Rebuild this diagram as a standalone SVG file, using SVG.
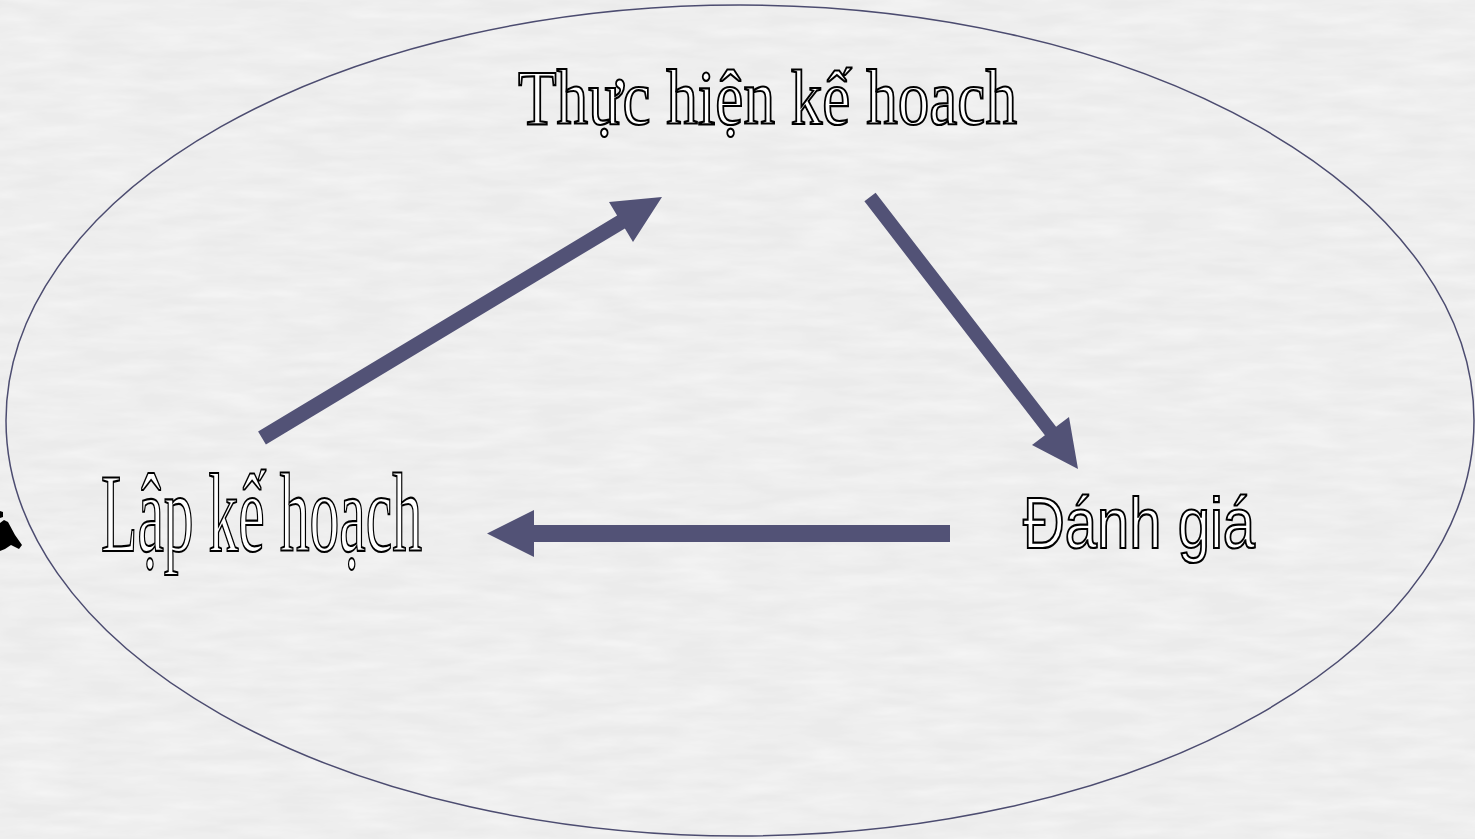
<svg xmlns="http://www.w3.org/2000/svg" width="1475" height="839" viewBox="0 0 1475 839">
  <defs>
    <!-- soft streaky paper texture -->
    <filter id="paper" x="0" y="0" width="100%" height="100%">
      <feTurbulence type="fractalNoise" baseFrequency="0.015 0.08" numOctaves="3" seed="7" result="n"/>
      <feColorMatrix in="n" type="matrix" values="0 0 0 0 1  0 0 0 0 1  0 0 0 0 1  0 0 0 0.7 -0.2" result="w"/>
      <feComposite in="w" in2="SourceGraphic" operator="over"/>
    </filter>
    <style>
      .cycle { fill: #525276; stroke: none; }
      .serif { font-family: "Liberation Serif", "Times New Roman", serif; fill: #ffffff; stroke: #000000; stroke-width: 2.2; }
      .sans { font-family: "Liberation Sans", Arial, sans-serif; fill: #ffffff; stroke: #000000; stroke-width: 2.2; }
    </style>
  </defs>

  <!-- background -->
  <rect x="0" y="0" width="1475" height="839" fill="#ebebeb" filter="url(#paper)"/>

  <!-- outer boundary -->
  <ellipse cx="740" cy="420.5" rx="734" ry="415.5" fill="none" stroke="#4c4c70" stroke-width="1.5"/>

  <!-- partially visible bullet glyph at the left margin -->
  <path d="M0,511 L3,512 L3,517 L0,518 Z M0,523 L4,520 L8,522 L15,535 L22,545 L19,549 L11,545 L5,549 L0,551 Z" fill="#000000"/>

  <g id="node-thuc-hien">
    <text class="serif" x="518" y="124" font-size="78" textLength="499" lengthAdjust="spacingAndGlyphs">Thực hiện kế hoach</text>
  </g>

  <g id="node-lap-ke-hoach">
    <text class="serif" x="101" y="551" font-size="112" textLength="321" lengthAdjust="spacingAndGlyphs">Lập kế hoạch</text>
  </g>

  <g id="node-danh-gia">
    <text class="sans" x="1023" y="548" font-size="73" textLength="232" lengthAdjust="spacingAndGlyphs">Đánh giá</text>
  </g>

  <g id="connectors">
    <!-- Lập kế hoạch -> Thực hiện kế hoach -->
    <polygon class="cycle" points="258.1,431.6 617.1,215.6 609,202 662,197 633,242 624.9,228.4 265.9,444.4"/>
    <!-- Thực hiện kế hoach -> Đánh giá -->
    <polygon class="cycle" points="875.6,192.7 1056.1,426.7 1069,417 1078,469 1032,445 1044.9,435.3 864.4,201.3"/>
    <!-- Đánh giá -> Lập kế hoạch -->
    <polygon class="cycle" points="950,525 534,525 534,510 487,533.5 534,557 534,542 950,542"/>
  </g>
</svg>
